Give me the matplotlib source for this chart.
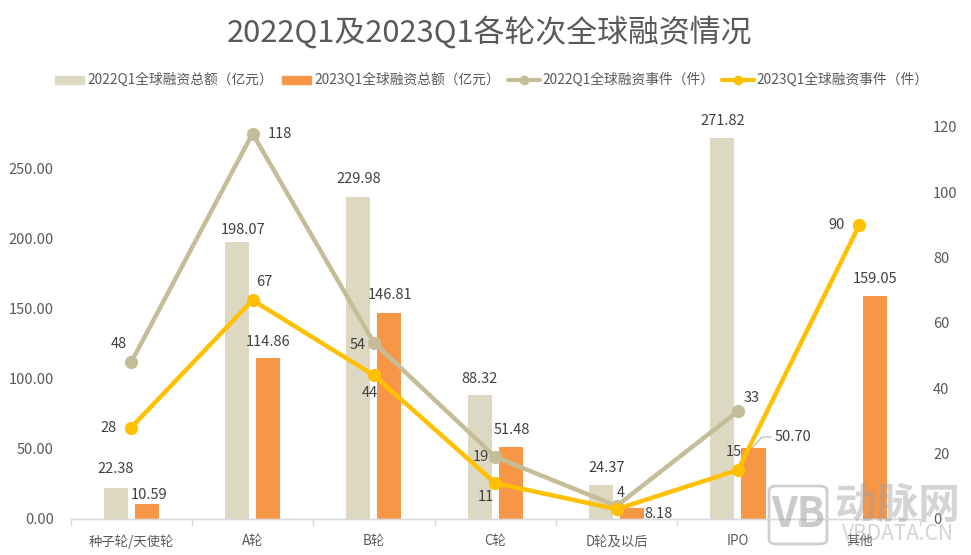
import numpy as np
import matplotlib
matplotlib.use("Agg")
import matplotlib.pyplot as plt
from matplotlib.patches import FancyBboxPatch

plt.rcParams['font.family'] = ['Noto Sans CJK SC', 'DejaVu Sans']

categories = ['种子轮/天使轮', 'A轮', 'B轮', 'C轮', 'D轮及以后', 'IPO', '其他']
amount_2022 = [22.38, 198.07, 229.98, 88.32, 24.37, 271.82, None]
amount_2023 = [10.59, 114.86, 146.81, 51.48, 8.18, 50.70, 159.05]
events_2022 = [48, 118, 54, 19, 4, 33]
events_2023 = [28, 67, 44, 11, 3, 15, 90]
events_2023_labels = ['28', '67', '44', '11', '', '15', '90']
left_ticks = [0, 50, 100, 150, 200, 250]
right_ticks = [0, 20, 40, 60, 80, 100, 120]

names = ['2022Q1全球融资总额（亿元）', '2023Q1全球融资总额（亿元）',
         '2022Q1全球融资事件（件）', '2023Q1全球融资事件（件）']

C_BAR22 = '#DDD8C2'
C_BAR23 = '#F79646'
C_L22 = '#C4BD97'
C_L23 = '#FFC000'
C_TXT = '#404040'
C_TICK = '#595959'

W, H = 971, 555
fig = plt.figure(figsize=(W / 100, H / 100), dpi=100, facecolor='white')
ax = fig.add_axes([70.5 / W, (H - 519) / H, 849.5 / W, 392 / H])
ax2 = ax.twinx()
ax.set_zorder(1)
ax2.set_zorder(2)
ax2.patch.set_visible(False)

x = np.arange(len(categories))
off, bw = 0.128, 0.198
vals22 = [np.nan if v is None else v for v in amount_2022]
ax.bar(x - off, vals22, bw, color=C_BAR22, zorder=2)
ax.bar(x + off, amount_2023, bw, color=C_BAR23, zorder=2)

ax.set_xlim(-0.5, len(categories) - 0.5)
ax.set_ylim(0, 280)
ax2.set_ylim(0, 120)

ax.set_yticks(left_ticks)
ax.set_yticklabels([f'{v:.2f}' for v in left_ticks], fontsize=10.5, color=C_TICK)
ax2.set_yticks(right_ticks)
ax2.set_yticklabels([str(v) for v in right_ticks], fontsize=10.5, color=C_TICK)
ax.tick_params(axis='y', length=0, pad=12)
ax2.tick_params(axis='y', length=0, pad=9.5)

ax.set_xticks(np.arange(len(categories) + 1) - 0.5, minor=False)
ax.set_xticklabels([])
ax.tick_params(axis='x', which='major', length=5, color='#D9D9D9', width=1, direction='out')
ax.set_xticks(x, minor=True)
ax.set_xticklabels(categories, minor=True, fontsize=9.6, color=C_TICK)
ax.tick_params(axis='x', which='minor', length=0, pad=11)

for a in (ax, ax2):
    for s in ('top', 'left', 'right'):
        a.spines[s].set_visible(False)
    a.spines['bottom'].set_color('#D9D9D9')
    a.spines['bottom'].set_linewidth(1)

l22, = ax2.plot(x[:len(events_2022)], events_2022, color=C_L22, lw=3.2, marker='o', ms=8.5,
                solid_capstyle='round', zorder=3)
l23, = ax2.plot(x, events_2023, color=C_L23, lw=3.2, marker='o', ms=8.5,
                solid_capstyle='round', zorder=4)

px = 0.72  # points per pixel
def lab(a, xv, yv, s, dx, dy):
    a.annotate(s, (xv, yv), xytext=(dx * px, dy * px), textcoords='offset points',
               ha='center', va='center', fontsize=10.5, color=C_TXT, zorder=6)

b22 = [(0, 19), (6, 12), (0, 18), (0, 16), (6, 17), (0, 17)]
b23 = [(2, 9), (0, 16), (1, 18), (1, 17), (26, -6), (40, 11), (0, 17)]
for i, v in enumerate(amount_2022):
    if v is not None:
        lab(ax, x[i] - off, v, f'{v:.2f}', *b22[i])
for i, v in enumerate(amount_2023):
    lab(ax, x[i] + off, v, f'{v:.2f}', *b23[i])

e22 = [(-12, 18), (27, 0), (-16, -2), (-14, 0), (4, 13), (14, 13)]
e23 = [(-23, 0), (12, 18), (-4, -18), (-9, -14), (0, 0), (-4, 18), (-23, 0)]
for i, v in enumerate(events_2022):
    lab(ax2, x[i], v, str(v), *e22[i])
for i, s in enumerate(events_2023_labels):
    if s:
        lab(ax2, x[i], events_2023[i], s, *e23[i])

# leader line for the IPO 2023 label
fig.add_artist(plt.Line2D([752 / W, 762 / W, 771 / W],
                          [(H - 448) / H, (H - 437) / H, (H - 437) / H],
                          color='#A6A6A6', lw=0.7))

fig.text(489 / W, (H - 32) / H, '2022Q1及2023Q1各轮次全球融资情况', ha='center', va='center',
         fontsize=22.2, color=C_TICK)

# legend (drawn by hand to match spacing)
ly = (H - 80) / H
for (x0, c, name) in [(55, C_BAR22, names[0]), (282, C_BAR23, names[1])]:
    fig.patches.append(plt.Rectangle((x0 / W, (H - 84) / H), 29 / W, 8 / H, color=c,
                                     transform=fig.transFigure))
    fig.text((x0 + 32) / W, ly, name, ha='left', va='center', fontsize=9.9, color=C_TICK)
for (x0, c, name) in [(508, C_L22, names[2]), (722, C_L23, names[3])]:
    fig.add_artist(plt.Line2D([x0 / W, (x0 + 32) / W], [ly, ly], color=c, lw=3,
                              solid_capstyle='round'))
    fig.add_artist(plt.Line2D([(x0 + 16) / W], [ly], color=c, marker='o', ms=6, lw=0))
    fig.text((x0 + 34) / W, ly, name, ha='left', va='center', fontsize=9.9, color=C_TICK)

# watermark
wm = '#A0A0A0'
fig.patches.append(FancyBboxPatch((769 / W, (H - 544) / H), 58 / W, 58 / H,
                                  boxstyle='round,pad=0,rounding_size=0.008',
                                  fc='none', ec=wm, lw=2, alpha=0.5,
                                  transform=fig.transFigure))
fig.text(798 / W, (H - 515) / H, 'VB', ha='center', va='center', fontsize=30, fontweight='bold',
         color=wm, alpha=0.55)
fig.text(897 / W, (H - 506) / H, '动脉网', ha='center', va='center', fontsize=30, fontweight='bold',
         color=wm, alpha=0.45)
fig.text(898 / W, (H - 534) / H, 'VBDATA.CN', ha='center', va='center', fontsize=15, color=wm, alpha=0.45)

fig.savefig('out.png', dpi=100)
